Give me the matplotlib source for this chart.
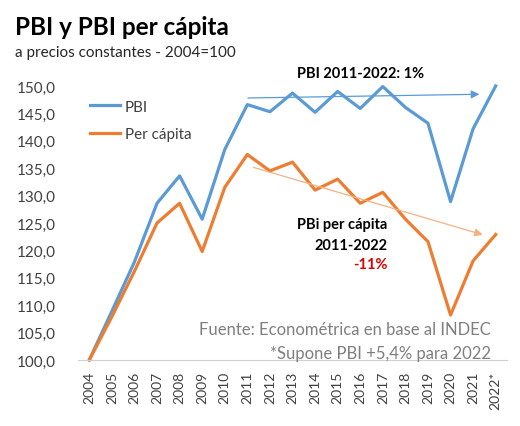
import matplotlib.pyplot as plt

plt.rcParams['font.family'] = ['Lato', 'DejaVu Sans']

years = ["2004", "2005", "2006", "2007", "2008", "2009", "2010", "2011", "2012",
         "2013", "2014", "2015", "2016", "2017", "2018", "2019", "2020", "2021", "2022*"]
pbi = [100.0, 108.9, 117.9, 128.6, 133.6, 125.7, 138.4, 146.6, 145.3, 148.7,
       145.2, 149.0, 145.9, 149.9, 146.1, 143.2, 128.9, 142.2, 150.0]
per_capita = [100.0, 107.9, 116.2, 125.0, 128.6, 119.8, 131.5, 137.5, 134.5, 136.1,
              131.0, 133.0, 128.6, 130.6, 125.7, 121.6, 108.2, 118.1, 122.9]

blue = "#5B9BD5"
orange = "#ED7D31"

fig = plt.figure(figsize=(5.2, 4.27), dpi=100)
ax = fig.add_axes([0.15, 0.1546, 0.825, 0.6417])

x = list(range(len(years)))
ax.plot(x, pbi, color=blue, lw=2.3, label="PBI", clip_on=False)
ax.plot(x, per_capita, color=orange, lw=2.3, label="Per cápita", clip_on=False)

ax.set_xlim(-0.5, 18.5)
ax.set_ylim(100, 150)
ax.set_yticks(range(100, 151, 5))
ax.set_yticklabels([f"{v},0" for v in range(100, 151, 5)], fontsize=11, color="#404040")
ax.set_xticks(x)
ax.set_xticklabels(years, rotation=90, fontsize=10, color="#404040")
ax.tick_params(length=0, pad=8)
ax.tick_params(axis="y", pad=16)
for s in ["top", "right", "left"]:
    ax.spines[s].set_visible(False)
ax.spines["bottom"].set_color("#d0d0d0")

ax.legend(loc="upper left", bbox_to_anchor=(-0.005, 1.0), frameon=False, fontsize=11,
          handlelength=2.0, handletextpad=0.3, labelspacing=0.9, labelcolor="#404040")

# trend arrows
ax.annotate("", xy=(17.4, 148.5), xytext=(6.9, 147.8),
            arrowprops=dict(arrowstyle="-|>", color=blue, lw=0.9, mutation_scale=12))
ax.annotate("", xy=(17.55, 122.7), xytext=(7.15, 135.3),
            arrowprops=dict(arrowstyle="-|>", color="#F4B183", lw=0.9, mutation_scale=12))

ax.text(12.0, 152.3, "PBI 2011-2022: 1%", fontsize=10.5, fontweight="bold",
        ha="center", va="center")
ax.text(13.2, 124.8, "PBi per cápita", fontsize=10.5, fontweight="bold", ha="right", va="center")
ax.text(13.2, 121.0, "2011-2022", fontsize=10.5, fontweight="bold", ha="right", va="center")
ax.text(13.2, 117.5, "-11%", fontsize=10.5, fontweight="bold", ha="right", va="center",
        color="#E00000")

ax.text(17.8, 105.7, "Fuente: Econométrica en base al INDEC", fontsize=12,
        ha="right", va="center", color="#7f7f7f")
ax.text(17.8, 101.3, "*Supone PBI +5,4% para 2022", fontsize=12,
        ha="right", va="center", color="#7f7f7f")

fig.text(0.028, 0.935, "PBI y PBI per cápita", fontsize=17.5, fontweight="bold", va="center")
fig.text(0.028, 0.877, "a precios constantes - 2004=100", fontsize=11, color="#262626",
         va="center")

fig.savefig("out.png", dpi=100)
